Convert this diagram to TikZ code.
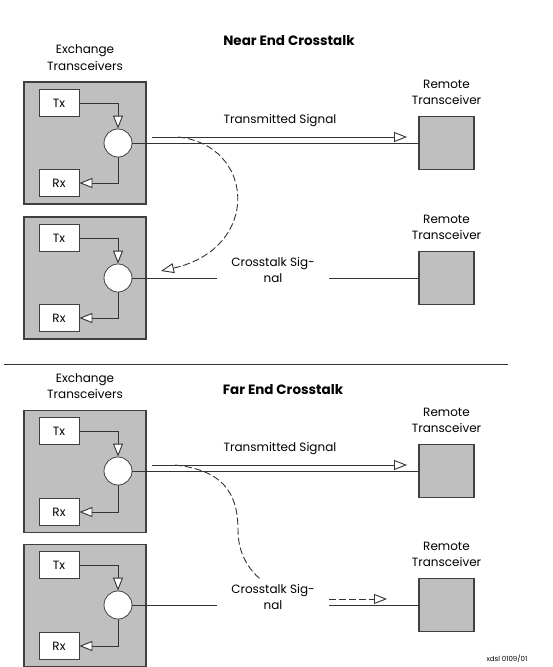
\documentclass[tikz,border=0pt]{standalone}
\usepackage{fontspec}
\setmainfont{Poppins}
\usetikzlibrary{positioning, arrows.meta}

\begin{document}
\begin{tikzpicture}[x=1pt, y=-1pt, node distance = 11pt, font=\fontsize{12}{16.5}\selectfont]

  \tikzstyle{unit}=[draw=black!75, fill=black!25, line width=1.1pt, inner sep=0pt]
  \tikzstyle{exchange}=[unit, minimum width=122pt, minimum height=122pt]
  \tikzstyle{remote}=[unit, minimum width=55pt, minimum height=53pt]
  \tikzstyle{port}=[draw=black!75, fill=white, line width=0.8pt, minimum width=40pt, minimum height=27pt, inner sep=0pt]
  \tikzstyle{hybrid}=[circle, draw=black!75, fill=white, line width=0.8pt, minimum size=28pt, inner sep=0pt]
  \tikzstyle{wire}=[draw=black!80, line width=0.9pt]
  \tikzstyle{sig}=[wire, -{Triangle[fill=white, length=13pt, width=10pt]}]
  \tikzstyle{xtalk}=[sig, dash pattern=on 7pt off 3pt]
  \tikzstyle{caption}=[align=center, inner sep=0pt]
  \tikzstyle{gap}=[caption, minimum width=112pt]
  \tikzstyle{title}=[font=\fontsize{13.5}{16}\bfseries]

  \useasboundingbox (0, 0) rectangle (553, 667);

  % near end crosstalk
  \node [title] (near) at (289, 41) {Near End Crosstalk};

  \node [exchange] (ex1) at (85, 143) {};
  \node [caption, above = of ex1] (exlab1) {Exchange\\Transceivers};
  \node [port] (tx1) at (59, 103) {Tx};
  \node [port] (rx1) at (59, 183) {Rx};
  \node [hybrid] (hy1) at (118, 143) {};
  \node [remote] (rem1) at (446.5, 143) {};
  \node [caption, above = of rem1] (remlab1) {Remote\\Transceiver};

  \node [exchange] (ex2) at (85, 278) {};
  \node [port] (tx2) at (59, 238) {Tx};
  \node [port] (rx2) at (59, 318) {Rx};
  \node [hybrid] (hy2) at (118, 278) {};
  \node [remote] (rem2) at (446.5, 278) {};
  \node [caption, above = of rem2] (remlab2) {Remote\\Transceiver};

  \coordinate (ts1a) at (152, 137);
  \coordinate (ts1b) at (407, 137);
  \node [caption] (tslab1) at (280, 121) {Transmitted Signal};
  \node [gap] (xt2) at (273, 270) {Crosstalk Sig-\\nal};
  \coordinate (nx1) at (178, 137);
  \coordinate (nx2) at (161, 271);

  \draw [sig] (tx1.east) -| (hy1.north);
  \draw [sig] (hy1.south) |- (rx1.east);
  \draw [sig] (tx2.east) -| (hy2.north);
  \draw [sig] (hy2.south) |- (rx2.east);

  \draw [wire] (hy1.east) -- (rem1.west);
  \draw [sig] (ts1a) -- (ts1b);
  \draw [wire] (hy2.east) -- (hy2.east -| xt2.west);
  \draw [wire] (xt2.east |- rem2.west) -- (rem2.west);
  \draw [xtalk] (nx1) .. controls (255, 145) and (262, 248) .. (nx2);

  \draw [wire] (4, 364) coordinate (sepL) -- (508, 364) coordinate (sepR);

  % far end crosstalk
  \node [title] (far) at (283, 390) {Far End Crosstalk};

  \node [exchange] (ex3) at (85, 471.5) {};
  \node [caption, above = of ex3] (exlab3) {Exchange\\Transceivers};
  \node [port] (tx3) at (59, 431) {Tx};
  \node [port] (rx3) at (59, 512) {Rx};
  \node [hybrid] (hy3) at (118, 471) {};
  \node [remote] (rem3) at (446.5, 471) {};
  \node [caption, above = of rem3] (remlab3) {Remote\\Transceiver};

  \node [exchange] (ex4) at (85, 605.5) {};
  \node [port] (tx4) at (59, 565) {Tx};
  \node [port] (rx4) at (59, 646) {Rx};
  \node [hybrid] (hy4) at (118, 605) {};
  \node [remote] (rem4) at (446.5, 605) {};
  \node [caption, above = of rem4] (remlab4) {Remote\\Transceiver};

  \coordinate (ts3a) at (152, 465);
  \coordinate (ts3b) at (407, 465);
  \node [caption] (tslab3) at (280, 449) {Transmitted Signal};
  \node [gap] (xt4) at (273, 597) {Crosstalk Sig-\\nal};
  \coordinate (fx1) at (175, 465);
  \coordinate (fx2) at (238, 530);
  \coordinate (fx3) at (260, 579);
  \coordinate (fx4) at (387, 599);

  \draw [sig] (tx3.east) -| (hy3.north);
  \draw [sig] (hy3.south) |- (rx3.east);
  \draw [sig] (tx4.east) -| (hy4.north);
  \draw [sig] (hy4.south) |- (rx4.east);

  \draw [wire] (hy3.east) -- (rem3.west);
  \draw [sig] (ts3a) -- (ts3b);
  \draw [wire] (hy4.east) -- (hy4.east -| xt4.west);
  \draw [wire] (xt4.east |- rem4.west) -- (rem4.west);
  \draw [wire, dash pattern=on 7pt off 3pt] (fx1) .. controls (222, 470) and (238, 492) .. (fx2)
    .. controls (238, 555) and (250, 570) .. (fx3);
  \draw [xtalk] (xt4.east |- fx4) -- (fx4);

  \node [font=\fontsize{7}{8}\selectfont, anchor=south] (ref) at (507, 666) {xdsl 0109/01};
\end{tikzpicture}
\end{document}
